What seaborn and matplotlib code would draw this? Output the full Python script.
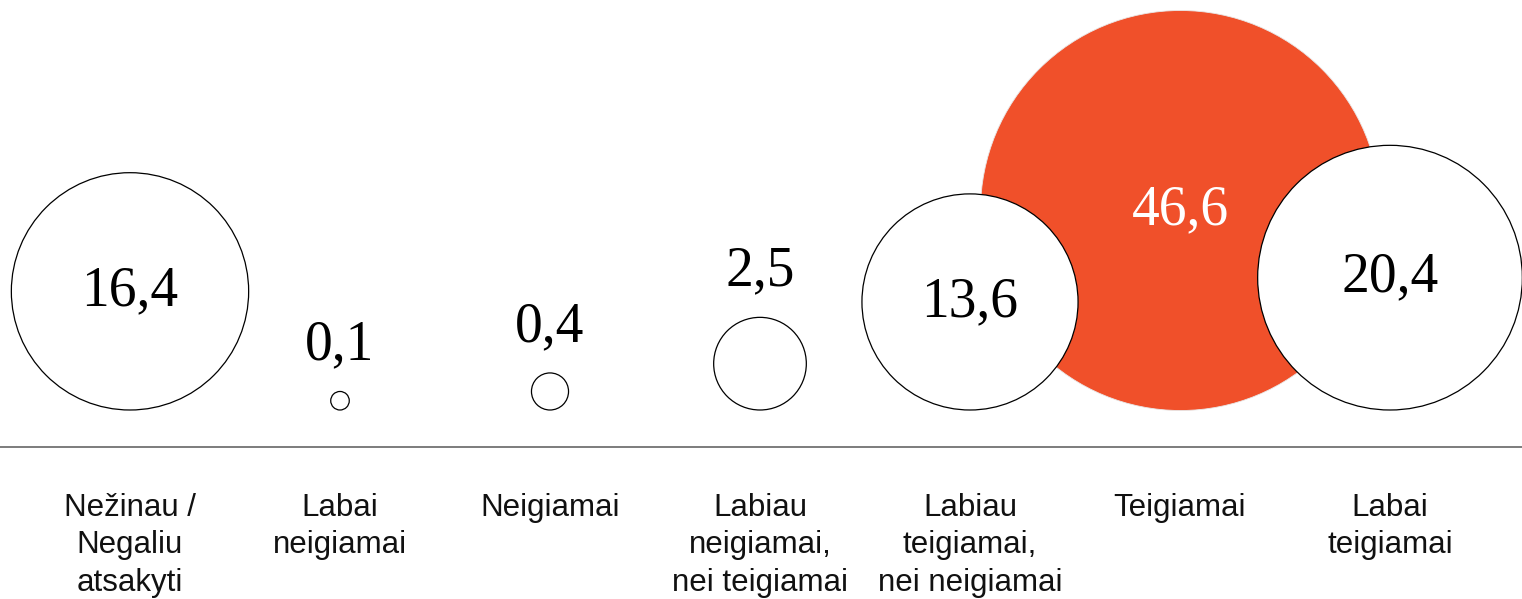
import numpy as np
import pandas as pd
import matplotlib
matplotlib.use("Agg")
import matplotlib.pyplot as plt
import seaborn as sns

# answer categories and shares (%)
categories = ["Nežinau /\nNegaliu\natsakyti", "Labai\nneigiamai", "Neigiamai",
              "Labiau\nneigiamai,\nnei teigiamai", "Labiau\nteigiamai,\nnei neigiamai",
              "Teigiamai", "Labai\nteigiamai"]
values = [16.4, 0.1, 0.4, 2.5, 13.6, 46.6, 20.4]
value_labels = ["16,4", "0,1", "0,4", "2,5", "13,6", "46,6", "20,4"]
highlight = [False, False, False, False, False, True, False]

RED = "#F0502A"
DPI = 100
W, H = 1522, 599
K = 29.3  # radius in px per sqrt(percent)

sns.set_theme(style="white")

df = pd.DataFrame({"pos": np.arange(len(values)), "value": values,
                   "label": value_labels, "hl": highlight})
df["r"] = K * np.sqrt(df["value"])  # circle radius, also its centre height (bottoms aligned)

fig = plt.figure(figsize=(W / DPI, H / DPI), dpi=DPI)
axis_h = 447
ax = fig.add_axes([0, (H - axis_h) / H, 1, axis_h / H])

# marker area proportional to value
unit = (2 * K * 72 / DPI) ** 2
vmax = max(values)
size_kw = dict(size="value", sizes=(0, unit * vmax), size_norm=(0, vmax), legend=False)

sns.scatterplot(data=df[df["hl"]], x="pos", y="r", color=RED, edgecolor="#e8e8e8",
                linewidth=0.6, ax=ax, zorder=2, **size_kw)
sns.scatterplot(data=df[~df["hl"]], x="pos", y="r", color="white", edgecolor="black",
                linewidth=0.9, ax=ax, zorder=3, **size_kw)

ax.set_xlim(-130 / 210, (W - 130) / 210)
ax.set_ylim(-37, axis_h - 37)

for _, row in df.iterrows():
    if row["value"] >= 10:
        ax.text(row["pos"], row["r"], row["label"], ha="center", va="center",
                fontsize=40, family="Liberation Serif",
                color="white" if row["hl"] else "black", zorder=4)
    else:
        ax.text(row["pos"], 2 * row["r"] + 32, row["label"], ha="center", va="baseline",
                fontsize=40, family="Liberation Serif", color="black", zorder=4)

ax.set_xticks(df["pos"], categories)
ax.set_yticks([])
ax.set_xlabel("")
ax.set_ylabel("")
ax.tick_params(axis="x", length=0, pad=33)
for lab in ax.get_xticklabels():
    lab.set_fontsize(22.5)
    lab.set_family("Liberation Sans")
    lab.set_linespacing(1.33)
    lab.set_color("#111111")

for s in ["top", "left", "right"]:
    ax.spines[s].set_visible(False)
ax.spines["bottom"].set_color("#666666")
ax.spines["bottom"].set_linewidth(1.2)

fig.savefig("out.png", dpi=DPI)
